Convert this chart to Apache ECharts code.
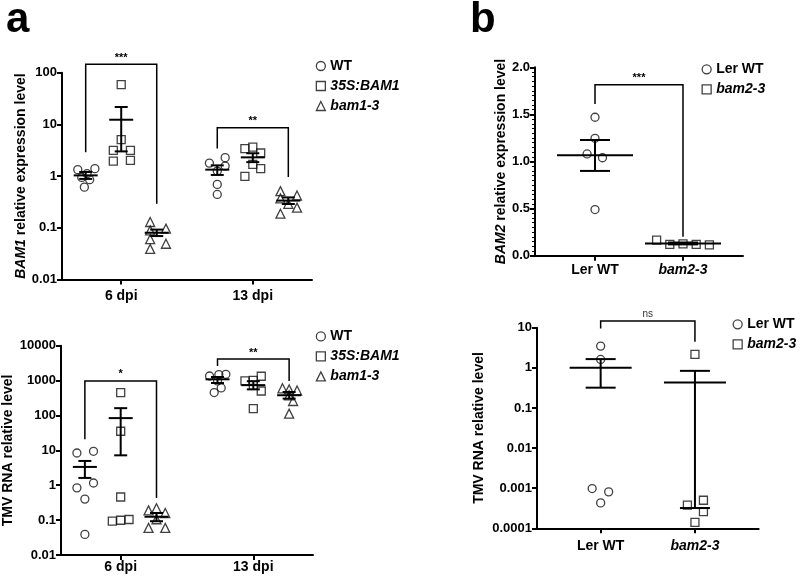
<!DOCTYPE html>
<html><head><meta charset="utf-8">
<script src="https://cdn.jsdelivr.net/npm/echarts@6/dist/echarts.min.js"></script>
<style>html,body{margin:0;padding:0;background:#fff}#c{width:800px;height:576px}</style>
</head><body><div id="c"></div>
<script>
const FONT = '"Liberation Sans", Arial, Helvetica, sans-serif';

// ---------------- data ----------------
const aCats = ['6 dpi', '13 dpi'];
const aGroups = ['WT', '35S:BAM1', 'bam1-3'];
const bCats = ['Ler WT', 'bam2-3'];
const bGroups = ['Ler WT', 'bam2-3'];

const aTopTicks = [0.01, 0.1, 1, 10, 100];
const aBotTicks = [0.01, 0.1, 1, 10, 100, 1000, 10000];
const bTopTicks = [0.0, 0.5, 1.0, 1.5, 2.0];
const bBotTicks = [0.0001, 0.001, 0.01, 0.1, 1, 10];

// Panel a (top): BAM1 relative expression level, per category [6 dpi, 13 dpi]
const aTopWT  = [[1.33, 1.39, 1.11, 0.94, 0.85, 0.61], [1.78, 2.27, 1.56, 1.25, 0.69, 0.44]];
const aTopOE  = [[58.6, 5.05, 3.14, 3.14, 1.95, 2.01], [3.39, 3.64, 2.79, 1.68, 1.39, 0.99]];
const aTopMut = [[0.129, 0.096, 0.089, 0.060, 0.049, 0.039], [0.51, 0.42, 0.37, 0.29, 0.245, 0.187]];
const aTopWTJit  = [[-0.06, 0.07, 0.01, -0.03, 0.03, -0.01], [-0.06, 0.06, 0.06, 0, 0, 0]];
const aTopOEJit  = [[0, 0, -0.06, 0.07, -0.06, 0.07], [-0.06, 0, 0.06, 0, 0.06, -0.06]];
const aTopMutJit = [[-0.05, 0.07, -0.05, -0.05, 0.07, -0.05], [-0.06, 0.066, -0.06, 0, 0.066, -0.06]];
const aTopMean = [[1.03, 12.3, 0.080], [1.33, 2.3, 0.335]];
const aTopLow  = [[0.88, 3.0, 0.069], [1.05, 1.86, 0.288]];
const aTopHigh = [[1.20, 21.7, 0.092], [1.61, 2.76, 0.386]];
// brackets: [category, fromGroup, toGroup, top, leftEnd, rightEnd]
const aTopSig = [[0, 0, 2, 145, 2.9, 0.29], [1, 0, 2, 8.6, 3.4, 0.96]];
const aTopSigText = ['***', '**'];

// Panel a (bottom): TMV RNA relative level
const aBotWT  = [[8.4, 9.4, 1.16, 0.84, 0.40, 0.039], [1355, 1486, 1514, 975, 614, 453]];
const aBotOE  = [[453, 35.3, 0.46, 0.093, 0.099, 0.104], [975, 1020, 1329, 733, 503, 158]];
const aBotMut = [[0.19, 0.22, 0.16, 0.106, 0.060, 0.060], [600, 560, 520, 379, 260, 113]];
const aBotWTJit  = [[-0.06, 0.065, 0.065, -0.06, 0, 0], [-0.06, 0.01, 0.063, 0, 0.028, -0.025]];
const aBotOEJit  = [[0, 0, 0, -0.063, 0, 0.063], [-0.063, 0, 0.06, 0, 0.06, 0]];
const aBotMutJit = [[-0.06, 0, 0.066, 0, -0.06, 0.066], [-0.05, 0, 0.06, 0, 0.03, 0]];
const aBotMean = [[3.35, 84, 0.125], [1089, 740, 380]];
const aBotLow  = [[1.62, 7.2, 0.093], [853, 560, 304]];
const aBotHigh = [[4.97, 162, 0.16], [1268, 960, 470]];
const aBotSig = [[0, 0, 2, 975, 20.8, 0.43], [1, 0, 2, 4160, 2620, 975]];
const aBotSigText = ['*', '**'];

// Panel b (top): BAM2 relative expression level
const bTopLer = [1.47, 1.246, 1.08, 1.04, 0.49];
const bTopMut = [0.165, 0.12, 0.125, 0.12, 0.115];
const bTopLerJit = [0, 0, -0.09, 0.085, 0];
const bTopMutJit = [-0.3, -0.15, 0, 0.15, 0.3];
const bTopMean = [1.066, 0.13];
const bTopLow  = [0.90, 0.12];
const bTopHigh = [1.228, 0.14];
// [fromCat, toCat, top, leftEnd, rightEnd]
const bTopSig = [[0, 1, 1.815, 1.61, 0.2]];
const bTopSigText = ['***'];

// Panel b (bottom): TMV RNA relative level
const bBotLer = [3.48, 1.62, 0.00098, 0.00081, 0.00043];
const bBotMut = [2.16, 0.00038, 0.0005, 0.00026, 0.00014];
const bBotLerJit = [0, 0, -0.09, 0.085, 0];
const bBotMutJit = [0, -0.08, 0.09, 0.09, 0];
const bBotMean = [1.0, 0.43];
const bBotLow  = [0.32, 0.00032];
const bBotHigh = [1.65, 0.84];
const bBotSig = [[0, 1, 14.6, 9.6, 4.45]];
const bBotSigText = ['ns'];

// ---------------- layout / style ----------------
const A_OFF = [-0.27, 0, 0.27];
const SYMBOLS = ['circle', 'rect', 'triangle'];
const BLACK = '#111';

function markerStyle() {
  return { color: 'rgba(0,0,0,0)', borderColor: BLACK, borderWidth: 1.3 };
}

function scatterA(name, gi, vals, jit, axis) {
  const data = [];
  vals.forEach((arr, c) => arr.forEach((v, i) => data.push([c + 1 + A_OFF[gi] + jit[c][i], v])));
  return { type: 'scatter', name, symbol: SYMBOLS[gi], symbolSize: gi === 2 ? 9 : 8,
    itemStyle: markerStyle(), xAxisIndex: axis, yAxisIndex: axis, data, silent: true, z: 2 };
}
function scatterB(name, gi, vals, jit, axis) {
  const data = vals.map((v, i) => [gi + 1 + jit[i], v]);
  return { type: 'scatter', name, symbol: SYMBOLS[gi], symbolSize: 8,
    itemStyle: markerStyle(), xAxisIndex: axis, yAxisIndex: axis, data, silent: true, z: 2 };
}

function errRender(halfMean, halfCap) {
  return function (params, api) {
    const x = api.value(0);
    const pm = api.coord([x, api.value(1)]);
    const pl = api.coord([x, api.value(2)]);
    const ph = api.coord([x, api.value(3)]);
    const st = { stroke: '#000', lineWidth: 2 };
    const ln = (x1, y1, x2, y2) => ({ type: 'line', shape: { x1, y1, x2, y2 }, style: st });
    return { type: 'group', children: [
      ln(pm[0] - halfMean, pm[1], pm[0] + halfMean, pm[1]),
      ln(pl[0], pl[1], ph[0], ph[1]),
      ln(pl[0] - halfCap, pl[1], pl[0] + halfCap, pl[1]),
      ln(ph[0] - halfCap, ph[1], ph[0] + halfCap, ph[1])
    ] };
  };
}
function errSeries(data, axis, halfMean, halfCap) {
  return { type: 'custom', xAxisIndex: axis, yAxisIndex: axis, silent: true, z: 5,
    dimensions: ['x', 'm', 'lo', 'hi'], encode: { x: 0, y: 1 },
    renderItem: errRender(halfMean, halfCap), data };
}
function sigRender(texts, fontSize, bold, dy) {
  return function (params, api) {
    const p1 = api.coord([api.value(0), api.value(3)]);
    const p2 = api.coord([api.value(0), api.value(2)]);
    const p3 = api.coord([api.value(1), api.value(2)]);
    const p4 = api.coord([api.value(1), api.value(4)]);
    return { type: 'group', children: [
      { type: 'polyline', shape: { points: [p1, p2, p3, p4] },
        style: { stroke: '#000', lineWidth: 1.5, fill: null } },
      { type: 'text', style: { x: (p2[0] + p3[0]) / 2, y: p2[1] - dy, text: texts[params.dataIndex],
        align: 'center', verticalAlign: 'bottom', fontSize, fontWeight: bold ? 'bold' : 'normal',
        fontFamily: FONT, fill: bold ? '#000' : '#333' } }
    ] };
  };
}
function sigSeries(data, axis, texts, fontSize, bold, dy) {
  return { type: 'custom', xAxisIndex: axis, yAxisIndex: axis, silent: true, z: 4,
    dimensions: ['x1', 'x2', 'top', 'le', 're'], encode: { x: 0, y: 2 },
    renderItem: sigRender(texts, fontSize, bold, dy), data };
}

function aErrData(mean, low, high) {
  const d = [];
  mean.forEach((row, c) => row.forEach((m, g) => d.push([c + 1 + A_OFF[g], m, low[c][g], high[c][g]])));
  return d;
}
function aSigData(sig) {
  return sig.map(s => [s[0] + 1 + A_OFF[s[1]], s[0] + 1 + A_OFF[s[2]], s[3], s[4], s[5]]);
}
function bErrData(mean, low, high) {
  return mean.map((m, g) => [g + 1, m, low[g], high[g]]);
}
function bSigData(sig) {
  return sig.map(s => [s[0] + 1, s[1] + 1, s[2], s[3], s[4]]);
}

const axisLine = { show: true, onZero: false, lineStyle: { color: '#000', width: 2 } };
const axisTick = { show: true, inside: false, length: 5, lineStyle: { color: '#000', width: 2 } };
const tickFont = { color: '#000', fontSize: 13, fontWeight: 'bold', fontFamily: FONT };
const italicRich = { i: { fontStyle: 'italic', fontWeight: 'bold', fontSize: 14, color: '#000', fontFamily: FONT } };

function fmtLog(v) { return String(parseFloat(Number(v).toPrecision(4))); }

function xAxisCfg(gi, min, max, cats, italicSecond, margin) {
  return { type: 'value', gridIndex: gi, min, max,
    axisLine, axisTick: Object.assign({}, axisTick, { customValues: [1, 2] }),
    splitLine: { show: false },
    axisLabel: { customValues: [1, 2], margin, color: '#000', fontSize: 14, fontWeight: 'bold', fontFamily: FONT,
      rich: italicRich,
      formatter: v => { const i = Math.round(v) - 1; const t = cats[i]; return (italicSecond && i === 1) ? '{i|' + t + '}' : t; } } };
}
function yAxisLog(gi, ticks, name, nameGap) {
  return { type: 'log', logBase: 10, gridIndex: gi, min: ticks[0], max: ticks[ticks.length - 1],
    splitNumber: ticks.length - 1,
    axisLine, axisTick, splitLine: { show: false }, minorTick: { show: false },
    axisLabel: Object.assign({ margin: 5, formatter: fmtLog, customValues: ticks }, tickFont),
    name, nameLocation: 'middle', nameGap,
    nameTextStyle: { color: '#000', fontSize: 14, fontWeight: 'bold', fontFamily: FONT, rich: italicRich } };
}

function legendCfg(left, top, names, italicIdx) {
  return { orient: 'vertical', left, top, itemWidth: 9, itemHeight: 9, itemGap: 6, selectedMode: false,
    textStyle: { color: '#000', fontSize: 14, fontWeight: 'bold', fontFamily: FONT },
    itemStyle: { color: 'rgba(0,0,0,0)', borderColor: BLACK, borderWidth: 1.3 },
    data: names.map((n, i) => italicIdx.includes(i) ? { name: n, textStyle: { fontStyle: 'italic' } } : { name: n }) };
}

const option = {
  animation: false,
  backgroundColor: '#fff',
  textStyle: { fontFamily: FONT },
  grid: [
    { left: 62, top: 72.7, width: 250, height: 206.7 },
    { left: 60, top: 345.7, width: 253, height: 209.3 },
    { left: 535, top: 67.3, width: 208, height: 188.4 },
    { left: 537, top: 327.7, width: 221.6, height: 200.6 }
  ],
  xAxis: [
    xAxisCfg(0, 0.55, 2.45, aCats, false, 10),
    xAxisCfg(1, 0.55, 2.45, aCats, false, 5),
    xAxisCfg(2, 0.318, 2.682, bCats, true, 7),
    xAxisCfg(3, 0.325, 2.675, bCats, true, 11)
  ],
  yAxis: [
    yAxisLog(0, aTopTicks, '{i|BAM1} relative expression level', 34),
    yAxisLog(1, aBotTicks, 'TMV RNA relative level', 46),
    { type: 'value', gridIndex: 2, min: bTopTicks[0], max: bTopTicks[bTopTicks.length - 1], interval: 0.5,
      axisLine, axisTick, splitLine: { show: false },
      minorTick: { show: true, splitNumber: 10, length: 3, lineStyle: { color: '#000', width: 1 } },
      axisLabel: Object.assign({ margin: 5, formatter: v => Number(v).toFixed(1) }, tickFont),
      name: '{i|BAM2} relative expression level', nameLocation: 'middle', nameGap: 25,
      nameTextStyle: { color: '#000', fontSize: 14, fontWeight: 'bold', fontFamily: FONT, rich: italicRich } },
    yAxisLog(3, bBotTicks, 'TMV RNA relative level', 51)
  ],
  legend: [
    legendCfg(310.7, 54, aGroups, [1, 2]),
    legendCfg(310.7, 324.4, aGroups, [1, 2]),
    legendCfg(696.5, 57.3, bGroups, [1]),
    legendCfg(727.5, 312.3, bGroups, [1])
  ],
  graphic: [
    { type: 'text', x: 6, y: 20, style: { text: 'a', fontSize: 42, fontWeight: 'bold', fontFamily: FONT, fill: '#000', verticalAlign: 'middle' } },
    { type: 'text', x: 470, y: 20, style: { text: 'b', fontSize: 42, fontWeight: 'bold', fontFamily: FONT, fill: '#000', verticalAlign: 'middle' } }
  ],
  series: [
    scatterA(aGroups[0], 0, aTopWT, aTopWTJit, 0),
    scatterA(aGroups[1], 1, aTopOE, aTopOEJit, 0),
    scatterA(aGroups[2], 2, aTopMut, aTopMutJit, 0),
    errSeries(aErrData(aTopMean, aTopLow, aTopHigh), 0, 12, 6.5),
    sigSeries(aSigData(aTopSig), 0, aTopSigText, 11, true, 1),

    scatterA(aGroups[0], 0, aBotWT, aBotWTJit, 1),
    scatterA(aGroups[1], 1, aBotOE, aBotOEJit, 1),
    scatterA(aGroups[2], 2, aBotMut, aBotMutJit, 1),
    errSeries(aErrData(aBotMean, aBotLow, aBotHigh), 1, 12, 6.5),
    sigSeries(aSigData(aBotSig), 1, aBotSigText, 11, true, 1),

    scatterB(bGroups[0], 0, bTopLer, bTopLerJit, 2),
    scatterB(bGroups[1], 1, bTopMut, bTopMutJit, 2),
    errSeries(bErrData(bTopMean, bTopLow, bTopHigh), 2, 38, 15),
    sigSeries(bSigData(bTopSig), 2, bTopSigText, 11, true, 1),

    scatterB(bGroups[0], 0, bBotLer, bBotLerJit, 3),
    scatterB(bGroups[1], 1, bBotMut, bBotMutJit, 3),
    errSeries(bErrData(bBotMean, bBotLow, bBotHigh), 3, 31, 15),
    sigSeries(bSigData(bBotSig), 3, bBotSigText, 10, false, 2)
  ]
};

const chart = echarts.init(document.getElementById('c'), null, { renderer: 'canvas' });
chart.setOption(option);
</script>
</body></html>
